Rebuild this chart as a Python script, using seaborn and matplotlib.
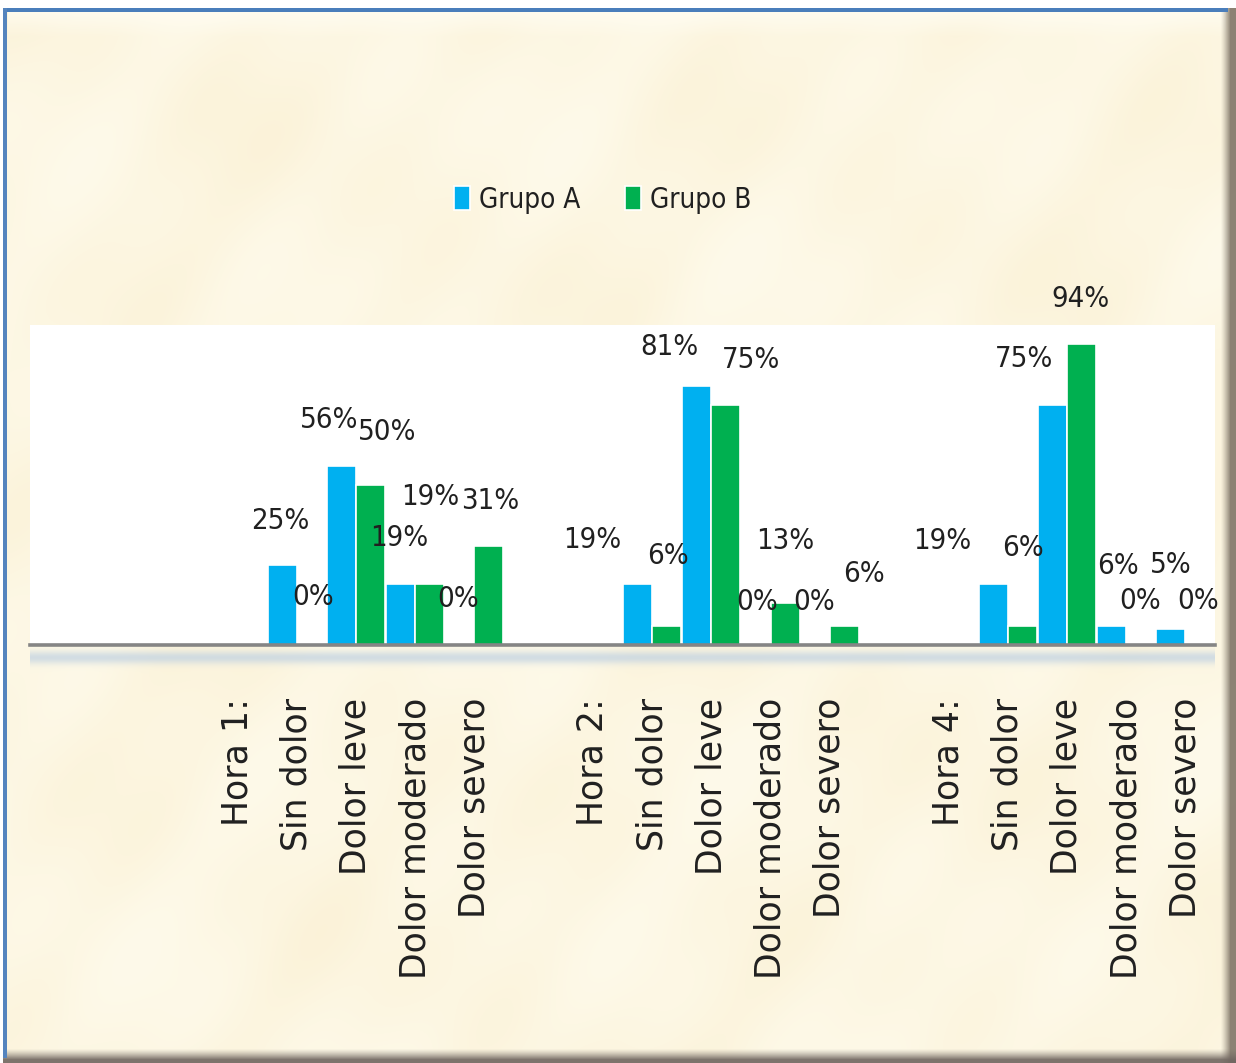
import numpy as np
import pandas as pd
import matplotlib
matplotlib.use("Agg")
import matplotlib.pyplot as plt
import seaborn as sns
from matplotlib import font_manager
from matplotlib.font_manager import FontProperties

# ---- data -------------------------------------------------------------
horas = ["Hora 1:", "Hora 2:", "Hora 4:"]
niveles = ["Sin dolor", "Dolor leve", "Dolor moderado", "Dolor severo"]
series = ["Grupo A", "Grupo B"]
grupo_a = [25, 56, 19, 0, 19, 81, 0, 0, 19, 75, 6, 5]
grupo_b = [0, 50, 19, 31, 6, 75, 13, 6, 6, 94, 0, 0]
colores = {"Grupo A": "#00B0F0", "Grupo B": "#00B050"}

# hand-placed label shifts (pixels, relative to bar top centre)
shift_a = [(-2, -44), (-12, -46), (-1, -46), (-2, -46),
           (-45, -44), (-28, -39), (1, -43), (-1, -43),
           (-51, -43), (-28, -46), (6, -60), (0, -64)]
shift_b = [(2, -48), (17, -53), (1, -87), (1, -45),
           (1, -70), (25, -45), (0, -62), (20, -52),
           (1, -78), (-1, -45), (-1, -44), (-2, -44)]

# ---- category slots (leading blanks + blank separator between hours) --
slots = ["", "", ""]
first_level = []
for i, h in enumerate(horas):
    slots.append(h)
    first_level.append(len(slots))
    slots += niveles
    if i < len(horas) - 1:
        slots.append("")
keys = [f"{i}:{s}" for i, s in enumerate(slots)]

rows = []
k = 0
for hi, start in enumerate(first_level):
    for ni in range(len(niveles)):
        key = keys[start + ni]
        rows.append({"slot": key, "grupo": "Grupo A", "valor": grupo_a[k]})
        rows.append({"slot": key, "grupo": "Grupo B", "valor": grupo_b[k]})
        k += 1
df = pd.DataFrame(rows)

# ---- fonts: prefer a narrow sans for the value labels and legend ------
narrow_files = [f for f in font_manager.fontManager.ttflist
                if ("Narrow" in f.name or "Condensed" in f.name
                    or str(f.stretch) in ("condensed", "semi-condensed",
                                          "extra-condensed"))
                and f.style == "normal" and f.weight in (400, "normal", "regular")]
if narrow_files:
    label_font = FontProperties(fname=narrow_files[0].fname)
    label_size, legend_size = 21, 20
else:
    label_font = FontProperties(family="Roboto")
    label_size, legend_size = 20, 19

# ---- figure & parchment background -----------------------------------
W, H = 1236, 1063
fig = plt.figure(figsize=(W / 100, H / 100), dpi=100)

yy, xx = np.mgrid[0:H, 0:W].astype(float)
m = (np.sin(xx / 37.0 + yy / 76.0) + np.sin(xx / 61.0 * 0.8 - yy / 41.0 + 1.3)
     + np.sin((xx + yy) / 71.0 + 2.1) + 0.6 * np.sin(xx / 19.0 + yy / 27.0 + 0.4)
     + 0.5 * np.sin(xx / 113.0 - yy / 97.0 + 0.9))
m = (m - m.min()) / (m.max() - m.min())
light = np.array([254, 250, 234]) / 255.0
dark = np.array([251, 242, 216]) / 255.0
img = light + (dark - light) * m[..., None] ** 1.3


def blend(region, color, a):
    c = np.array(color) / 255.0
    a = np.asarray(a, dtype=float)
    while a.ndim < 3:
        a = a[..., None]
    return region * (1 - a) + c * a


# light bevel band at the top
band = np.clip(1 - (np.arange(12, 36) - 12) / 24.0, 0, 1)[:, None] * 0.75
img[12:36, 8:1226] = blend(img[12:36, 8:1226], (255, 253, 243), band[:, :, None])
# right and bottom darker bevels
rx = np.arange(1220, W)
ra = np.clip((rx - 1220) / 10.0, 0, 1) ** 1.3
img[:, 1220:W] = blend(img[:, 1220:W], (128, 118, 104), ra[None, :, None] * 0.9)
by = np.arange(1048, H)
ba = np.clip((by - 1048) / 11.0, 0, 1) ** 1.3
img[1048:H, :] = blend(img[1048:H, :], (112, 102, 96), ba[:, None, None] * 0.9)
# outer white margin and blue frame lines
img[0:8, :] = 1.0
img[:, 0:3] = 1.0
img[8:12, 3:1228] = np.array([74, 126, 187]) / 255.0
img[8:1058, 3:7] = np.array([84, 132, 190]) / 255.0
# soft blue-grey shadow below the category axis
sy = np.arange(646, 674)
sa = np.exp(-((sy - 657) / 6.5) ** 2) * 0.75
img[646:674, 30:1215] = blend(img[646:674, 30:1215], (196, 212, 226), sa[:, None, None])

bg = fig.add_axes([0, 0, 1, 1])
bg.imshow(img, extent=[0, W, H, 0], aspect="auto", interpolation="bilinear")
bg.set_axis_off()

# ---- plot area --------------------------------------------------------
left, right, top, base = 30, 1215, 325, 645
ax = fig.add_axes([left / W, (H - base) / H, (right - left) / W, (base - top) / H])
ax.set_facecolor("white")

sns.barplot(data=df, x="slot", y="valor", hue="grupo", order=keys,
            hue_order=series, palette=colores, saturation=1, width=0.98,
            errorbar=None, edgecolor="white", linewidth=1.2, ax=ax)

ax.set_xlim(-0.5, len(keys) - 0.5)
ax.set_ylim(0, 100)
ax.set_xlabel("")
ax.set_ylabel("")
ax.set_yticks([])
ax.set_xticks(range(len(keys)))
ax.set_xticklabels(slots, rotation=90, fontsize=25, family="DejaVu Sans",
                   color="#202020")
ax.tick_params(axis="x", length=0, pad=38)
for side in ["top", "left", "right"]:
    ax.spines[side].set_visible(False)
ax.spines["bottom"].set_color("#858585")
ax.spines["bottom"].set_linewidth(2.6)

# ---- value labels -----------------------------------------------------
px2pt = 72.0 / 100.0
for cont, shifts in zip(ax.containers, [shift_a, shift_b]):
    bars = sorted([p for p in cont.patches if np.isfinite(p.get_height())],
                  key=lambda p: p.get_x())
    for p, (dx, dy) in zip(bars, shifts):
        v = p.get_height()
        ax.annotate(f"{v:.0f}%", xy=(p.get_x() + p.get_width() / 2, v),
                    xytext=(dx * px2pt, -dy * px2pt), textcoords="offset points",
                    ha="center", va="center", fontproperties=label_font,
                    fontsize=label_size, color="#202020", annotation_clip=False)

# ---- legend -----------------------------------------------------------
handles, labels = ax.get_legend_handles_labels()
if ax.get_legend() is not None:
    ax.get_legend().remove()
leg_font = label_font.copy()
leg_font.set_size(legend_size)
fig.legend(handles, labels, loc="center", bbox_to_anchor=(603 / W, 1 - 200 / H),
           ncol=2, frameon=False, prop=leg_font,
           handlelength=0.55, handleheight=0.95, handletextpad=0.35,
           columnspacing=1.6, labelcolor="#202020")

fig.savefig("out.png", dpi=100)
